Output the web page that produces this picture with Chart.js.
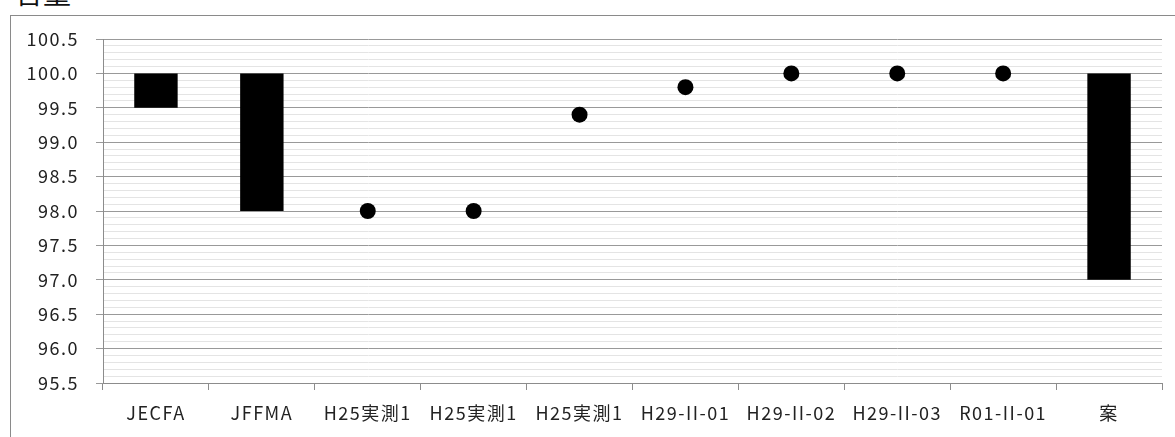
<!DOCTYPE html>
<html>
<head>
<meta charset="utf-8">
<script src="https://cdn.jsdelivr.net/npm/chart.js@4/dist/chart.umd.min.js"></script>
<style>
  html, body { margin: 0; padding: 0; background: #fff; overflow: hidden; }
  #frame {
    position: absolute; left: 10px; top: 15px; width: 1200px; height: 500px;
    border: 1px solid #8a8a8a; background: #fff;
  }
  #title {
    position: absolute; left: 15px; top: -22px; font-family: "Noto Sans CJK JP";
    font-size: 28px; line-height: 28px; color: #111;
  }
  #chart { position: absolute; left: 0; top: 0; }
</style>
</head>
<body>
<div id="frame"></div>
<div id="title">含量</div>
<canvas id="chart" width="1175" height="437"></canvas>
<script>
// Chart data
const categories = ['JECFA', 'JFFMA', 'H25実測1', 'H25実測1', 'H25実測1', 'H29-II-01', 'H29-II-02', 'H29-II-03', 'R01-II-01', '案'];
const rangeLow  = [99.5, 98.0, null, null, null, null, null, null, null, 97.0];
const rangeHigh = [100.0, 100.0, null, null, null, null, null, null, null, 100.0];
const measured  = [null, null, 98.0, 98.0, 99.4, 99.8, 100.0, 100.0, 100.0, null];
const yMin = 95.5;
const yMax = 100.5;

const labelFont = { family: '"Noto Sans CJK JP"', size: 18 };

// Major gridline every 0.5, minor every 0.1
function isMajor(v) {
  return Math.abs(v * 2 - Math.round(v * 2)) < 1e-6;
}

const ranges = rangeLow.map((lo, i) => (lo === null ? null : [lo, rangeHigh[i]]));

// Wider glyph spacing, like the Excel rendering
const spacingPlugin = {
  id: 'spacing',
  beforeLayout(chart) { chart.ctx.letterSpacing = '1.5px'; },
  beforeDraw(chart) { chart.ctx.letterSpacing = '1.5px'; }
};

const ctx = document.getElementById('chart').getContext('2d');
new Chart(ctx, {
  type: 'bar',
  data: {
    labels: categories,
    datasets: [
      {
        label: 'range',
        data: ranges,
        backgroundColor: '#000',
        borderWidth: 0,
        barPercentage: 0.41,
        categoryPercentage: 1.0
      },
      {
        type: 'line',
        label: 'measured',
        data: measured,
        showLine: false,
        pointRadius: 8,
        pointHoverRadius: 8,
        pointBackgroundColor: '#000',
        pointBorderWidth: 0
      }
    ]
  },
  options: {
    responsive: false,
    animation: false,
    devicePixelRatio: 1,
    layout: { padding: { left: 0, top: 39, right: 13, bottom: 0 } },
    plugins: {
      legend: { display: false },
      tooltip: { enabled: false }
    },
    scales: {
      x: {
        offset: true,
        grid: {
          offset: true,
          drawOnChartArea: false,
          tickLength: 7,
          color: '#8c8c8c'
        },
        border: { display: true, color: '#8c8c8c' },
        ticks: {
          font: labelFont,
          color: '#222',
          padding: 12,
          maxRotation: 0,
          autoSkip: false
        },
        afterFit(scale) { scale.height = 54; }
      },
      y: {
        min: yMin,
        max: yMax,
        grid: {
          tickLength: 7,
          color: (c) => (isMajor(c.tick.value) ? '#999' : '#e4e4e4'),
          tickColor: (c) => (isMajor(c.tick.value) ? '#999' : 'rgba(0,0,0,0)')
        },
        border: { display: true, color: '#8c8c8c' },
        ticks: {
          stepSize: 0.1,
          autoSkip: false,
          font: labelFont,
          color: '#222',
          padding: 17,
          callback: (v) => (isMajor(v) ? Number(v).toFixed(1) : '')
        },
        afterFit(scale) { scale.width = 103; }
      }
    }
  },
  plugins: [spacingPlugin]
});
</script>
</body>
</html>
